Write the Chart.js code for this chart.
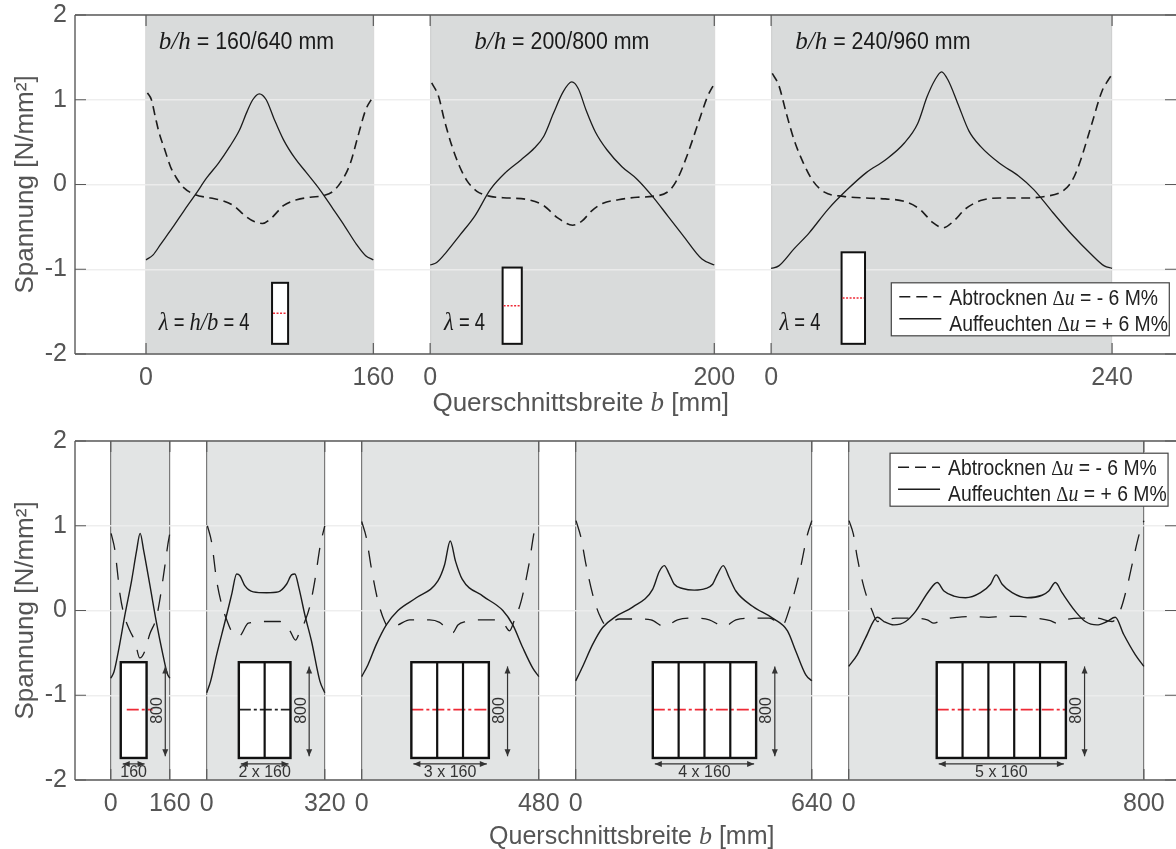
<!DOCTYPE html>
<html lang="de">
<head>
<meta charset="utf-8">
<title>Spannung über Querschnittsbreite</title>
<script src="https://cdn.jsdelivr.net/npm/chart.js@4/dist/chart.umd.min.js"></script>
<style>
  html, body { margin: 0; padding: 0; background: #fff; }
  #topWrap { position: absolute; left: 0; top: 0; }
  #bottomWrap { position: absolute; left: 0; top: 426px; }
</style>
</head>
<body>
<div id="topWrap"><canvas id="topChart" width="1176" height="420"></canvas></div>
<div id="bottomWrap"><canvas id="bottomChart" width="1176" height="423"></canvas></div>
<script>
// Werte
const yTicks = [2, 1, 0, -1, -2];
const yTitle = 'Spannung [N/mm²]';
const dryLabel = 'Abtrocknen';
const wetLabel = 'Auffeuchten';

const topOffsets = [0, 200, 440];
const topWidths = [160, 200, 240];
const topTickLabels = ['0', '160', '0', '200', '0', '240'];
const topDimensions = ['160/640', '200/800', '240/960'];

const bottomOffsets = [0, 260, 680, 1260, 2000];
const bottomWidths = [160, 320, 480, 640, 800];
const bottomTickLabels = ['0', '160', '0', '320', '0', '480', '0', '640', '0', '800'];
const bottomBays = [1, 2, 3, 4, 5];

const top1WetX = [0, 5, 10.5, 18.6, 26.7, 34.7, 42.8, 50.9, 59, 65.7, 71.1, 75.1, 79.7, 84.6, 90, 96.7, 104.8, 112.9, 122.3, 131.7, 139.8, 147.9, 154.6, 160];
const top1WetY = [-0.89, -0.83, -0.7, -0.51, -0.31, -0.12, 0.08, 0.25, 0.45, 0.64, 0.86, 1, 1.07, 1, 0.78, 0.53, 0.31, 0.14, -0.06, -0.29, -0.49, -0.7, -0.84, -0.89];
const top1DryX = [1, 3.8, 6.5, 9.2, 13.2, 17.2, 21.3, 26.7, 34.7, 45.5, 53.6, 61.7, 69.8, 76.5, 81.9, 88.6, 96.7, 106.1, 115.6, 125, 131.7, 138.4, 143.8, 149.2, 154.6, 160];
const top1DryY = [1.08, 1, 0.8, 0.61, 0.41, 0.21, 0.08, -0.04, -0.12, -0.16, -0.19, -0.25, -0.37, -0.44, -0.46, -0.39, -0.25, -0.18, -0.15, -0.13, -0.08, 0.06, 0.25, 0.57, 0.88, 1.04];

const top2WetX = [0, 4.6, 11.3, 20.8, 31.5, 42.3, 53, 63.9, 73.4, 80, 86.8, 93.5, 99.7, 104.3, 109.7, 116.3, 124.4, 135, 145.8, 156.5, 167.2, 177.9, 191.3, 200];
const top2WetY = [-0.95, -0.92, -0.8, -0.6, -0.37, -0.06, 0.14, 0.29, 0.43, 0.57, 0.84, 1.09, 1.21, 1.13, 0.88, 0.62, 0.41, 0.21, 0.06, -0.14, -0.37, -0.6, -0.88, -0.95];
const top2DryX = [1.1, 5.9, 10, 15.4, 20.8, 26.1, 32.9, 42.3, 55.8, 69.3, 80, 89.5, 100.3, 107, 113.7, 121.7, 132.4, 145.8, 156.5, 168.5, 173.9, 180.6, 188.6, 195.3, 200];
const top2DryY = [1.2, 1.04, 0.76, 0.45, 0.21, 0.04, -0.08, -0.14, -0.16, -0.18, -0.25, -0.39, -0.48, -0.43, -0.31, -0.22, -0.18, -0.15, -0.14, -0.07, 0.06, 0.33, 0.72, 1.04, 1.19];

const top3WetX = [0, 5.4, 16.1, 26.8, 40.2, 53.6, 67, 80.4, 93.8, 103.2, 109.9, 115.2, 120, 124.6, 131.3, 139.3, 147.4, 160.8, 174.2, 184.9, 198.3, 211.7, 225.1, 234.5, 240];
const top3WetY = [-0.99, -0.96, -0.76, -0.57, -0.29, -0.06, 0.14, 0.29, 0.49, 0.72, 1.04, 1.23, 1.33, 1.23, 0.96, 0.63, 0.45, 0.25, 0.1, -0.06, -0.33, -0.59, -0.82, -0.96, -0.99];
const top3DryX = [0.8, 5.4, 10.7, 16.1, 22.8, 29.5, 37.5, 50.9, 67, 80.4, 93.8, 104.5, 113.9, 121.1, 128.6, 136.6, 147.4, 160.8, 176.9, 193, 205, 211.7, 217.1, 225.1, 233.1, 237.2, 240];
const top3DryY = [1.31, 1.17, 0.84, 0.53, 0.25, 0.04, -0.09, -0.14, -0.16, -0.17, -0.2, -0.29, -0.45, -0.51, -0.43, -0.29, -0.19, -0.16, -0.16, -0.14, -0.08, 0.04, 0.25, 0.68, 1.11, 1.23, 1.3];

const bot1WetX = [0, 8.9, 20.6, 38.4, 56.3, 69.7, 79.5, 89.4, 105.5, 123.3, 141.2, 152.8, 160];
const bot1WetY = [-0.8, -0.72, -0.48, -0.05, 0.35, 0.7, 0.91, 0.7, 0.31, -0.13, -0.52, -0.74, -0.8];
const bot1DryX = [0.9, 11.6, 17.9, 25, 35.8, 51.9, 65.3, 78.7, 92.1, 105.5, 123.3, 132.3, 145.7, 154.7, 160];
const bot1DryY = [0.91, 0.7, 0.46, 0.19, -0.05, -0.24, -0.36, -0.56, -0.48, -0.28, -0.09, 0.11, 0.5, 0.78, 0.91];

const bot2WetX = [0, 10.8, 27, 49.6, 67.6, 81.1, 90.1, 103.7, 126.2, 162.3, 193.8, 216.3, 229.9, 238.9, 249.7, 265.9, 283.9, 306.5, 320];
const bot2WetY = [-0.97, -0.83, -0.52, -0.13, 0.19, 0.43, 0.41, 0.29, 0.22, 0.21, 0.22, 0.31, 0.42, 0.43, 0.27, -0.05, -0.36, -0.83, -0.97];
const bot2DryX = [1.8, 13.5, 27, 40.6, 54.1, 69.4, 88.3, 112.7, 162.3, 198.3, 225.4, 240.7, 249.7, 265.9, 279.4, 292.9, 308.3, 320];
const bot2DryY = [1, 0.8, 0.35, 0.07, -0.11, -0.26, -0.3, -0.15, -0.13, -0.13, -0.24, -0.35, -0.28, -0.13, 0.05, 0.35, 0.78, 1];

const bot3WetX = [0, 17.1, 39.7, 66.8, 98.4, 148, 206.6, 224.7, 240, 254.4, 272.4, 328.4, 382.5, 409.6, 436.7, 463.7, 480];
const bot3WetY = [-0.78, -0.64, -0.4, -0.17, 0, 0.15, 0.35, 0.54, 0.82, 0.58, 0.37, 0.17, 0, -0.17, -0.44, -0.68, -0.78];
const bot3DryX = [0, 12.6, 26.2, 44.2, 62.3, 74, 98.4, 129.9, 184.1, 211.1, 224.7, 247.2, 260.8, 283.3, 319.4, 364.5, 387.1, 400.6, 414.2, 432.2, 454.8, 468.3, 476.4];
const bot3DryY = [1.05, 0.86, 0.5, 0.11, -0.13, -0.2, -0.17, -0.11, -0.11, -0.14, -0.19, -0.26, -0.17, -0.13, -0.11, -0.11, -0.17, -0.24, -0.11, 0.11, 0.58, 0.94, 1];

const bot4WetX = [0, 19, 46, 73.1, 109.2, 154.3, 208.5, 226.6, 240.1, 253.6, 267.2, 289.7, 321.3, 352.9, 371, 384.5, 399.9, 416.1, 434.1, 479.3, 533.4, 574, 596.6, 623.7, 640];
const bot4WetY = [-0.83, -0.66, -0.4, -0.2, -0.07, 0.04, 0.25, 0.46, 0.53, 0.43, 0.31, 0.26, 0.24, 0.26, 0.31, 0.43, 0.53, 0.39, 0.23, 0.05, -0.09, -0.24, -0.48, -0.76, -0.83];
const bot4DryX = [0.9, 14.4, 28, 46, 64.1, 82.1, 118.3, 163.4, 204, 240.1, 276.2, 321.3, 362, 402.6, 434.1, 479.3, 524.5, 560.6, 578.6, 605.7, 628.3, 640];
const bot4DryY = [1.06, 0.86, 0.54, 0.19, -0.05, -0.17, -0.1, -0.1, -0.11, -0.19, -0.11, -0.09, -0.11, -0.19, -0.11, -0.09, -0.09, -0.17, 0.01, 0.43, 0.9, 1.06];

const bot5WetX = [0, 23.4, 46, 77.6, 95.6, 122.7, 154.2, 181.3, 217.3, 239.9, 258, 285, 316.6, 357.2, 384.2, 399.5, 415.8, 442.9, 483.4, 524, 542.1, 560.1, 578.2, 614.2, 641.3, 672.9, 699.9, 722.4, 745, 776.5, 800];
const bot5WetY = [-0.66, -0.52, -0.32, -0.08, -0.13, -0.17, -0.13, -0.01, 0.23, 0.33, 0.23, 0.17, 0.15, 0.21, 0.31, 0.42, 0.31, 0.21, 0.15, 0.18, 0.23, 0.33, 0.21, -0.01, -0.13, -0.17, -0.13, -0.08, -0.28, -0.52, -0.66];
const bot5DryX = [0.9, 12.6, 23.4, 41.5, 64, 77.6, 127.2, 167.8, 212.8, 230.9, 253.4, 294, 334.5, 379.6, 415.7, 465.3, 505.9, 546.5, 564.5, 587.1, 627.6, 672.7, 713.4, 735.9, 753.9, 772, 787.3, 800];
const bot5DryY = [1.06, 0.9, 0.62, 0.27, -0.01, -0.13, -0.09, -0.09, -0.11, -0.15, -0.11, -0.08, -0.07, -0.08, -0.07, -0.07, -0.09, -0.12, -0.15, -0.11, -0.09, -0.09, -0.13, 0, 0.27, 0.62, 0.9, 1.06];

const SANS = '"Liberation Sans", Arial, sans-serif';
const SERIF = '"Liberation Serif", "Times New Roman", serif';
const AXIS_COLOR = '#5a5a5a';

function curve(label, offset, xs, ys, dash, width) {
  return {
    label: label,
    data: xs.map((x, i) => ({ x: x + offset, y: ys[i] })),
    borderColor: '#1c1c1c',
    borderWidth: width,
    borderDash: dash,
    pointRadius: 0,
    cubicInterpolationMode: 'monotone',
    fill: false
  };
}

// Textstücke mit wechselnder Schrift, run = [Text, Schrift, Stauchung in x]
function drawRuns(ctx, x, y, runs, color) {
  ctx.fillStyle = color || '#1a1a1a';
  ctx.textAlign = 'left';
  ctx.textBaseline = 'alphabetic';
  runs.forEach(run => {
    const sx = run[2] || 1;
    ctx.font = run[1];
    ctx.save();
    ctx.translate(x, y);
    ctx.scale(sx, 1);
    ctx.fillText(run[0], 0, 0);
    ctx.restore();
    x += ctx.measureText(run[0]).width * sx;
  });
}

function runsWidth(ctx, runs) {
  return runs.reduce((sum, run) => {
    ctx.font = run[1];
    return sum + ctx.measureText(run[0]).width * (run[2] || 1);
  }, 0);
}

function line(ctx, x1, y1, x2, y2, color, width, dash) {
  ctx.save();
  ctx.strokeStyle = color;
  ctx.lineWidth = width;
  ctx.setLineDash(dash || []);
  ctx.beginPath();
  ctx.moveTo(x1, y1);
  ctx.lineTo(x2, y2);
  ctx.stroke();
  ctx.restore();
}

function arrowHead(ctx, x, y, dx, dy) {
  ctx.fillStyle = '#333';
  ctx.beginPath();
  ctx.moveTo(x, y);
  ctx.lineTo(x - dx * 7 - dy * 3, y - dy * 7 - dx * 3);
  ctx.lineTo(x - dx * 7 + dy * 3, y - dy * 7 + dx * 3);
  ctx.closePath();
  ctx.fill();
}

function arrow(ctx, x1, y1, x2, y2) {
  line(ctx, x1, y1, x2, y2, '#333', 1.2);
  const len = Math.hypot(x2 - x1, y2 - y1);
  const dx = (x2 - x1) / len;
  const dy = (y2 - y1) / len;
  arrowHead(ctx, x2, y2, dx, dy);
  arrowHead(ctx, x1, y1, -dx, -dy);
}

function drawLegend(ctx, left, top, width, height) {
  ctx.fillStyle = '#fff';
  ctx.fillRect(left, top, width, height);
  ctx.strokeStyle = '#444';
  ctx.lineWidth = 1.2;
  ctx.strokeRect(left, top, width, height);
  line(ctx, left + 8, top + 14, left + 50, top + 14, '#1c1c1c', 1.5, [11, 6]);
  line(ctx, left + 8, top + 36, left + 50, top + 36, '#1c1c1c', 1.5);
  const f = '22.5px ' + SANS;
  const m = 'italic 23px ' + SERIF;
  const d = '22px ' + SERIF;
  const sq = 0.86;
  drawRuns(ctx, left + 58, top + 22, [[dryLabel + ' ', f, sq], ['Δ', d, sq], ['u', m, sq], [' = - 6 M%', f, sq]], '#222');
  drawRuns(ctx, left + 58, top + 48, [[wetLabel + ' ', f, sq], ['Δ', d, sq], ['u', m, sq], [' = + 6 M%', f, sq]], '#222');
}

function drawXTitle(chart, center, y, size) {
  const ctx = chart.ctx;
  const f = size + 'px ' + SANS;
  const runs = [['Querschnittsbreite ', f], ['b', 'italic ' + (size + 1) + 'px ' + SERIF], [' [mm]', f]];
  const w = runsWidth(ctx, runs);
  drawRuns(ctx, chart.scales.x.getPixelForValue(center) - w / 2, y, runs, '#555');
}

// Graue Bereiche unter Gitter und Kurven, Rahmen und Striche darüber
const panelPlugin = {
  id: 'panels',
  beforeDraw(chart, args, opts) {
    const { ctx, chartArea: a, scales: { x } } = chart;
    ctx.save();
    ctx.fillStyle = opts.fill;
    opts.offsets.forEach((o, i) => {
      const l = x.getPixelForValue(o);
      const r = x.getPixelForValue(o + opts.widths[i]);
      ctx.fillRect(l, a.top, r - l, a.bottom - a.top);
    });
    ctx.restore();
  },
  afterDraw(chart) {
    const { ctx, chartArea: a, scales: { x, y } } = chart;
    line(ctx, a.left, a.top, a.right, a.top, AXIS_COLOR, 1.6);
    line(ctx, a.left, a.bottom, a.right, a.bottom, AXIS_COLOR, 1.6);
    line(ctx, a.left, a.top, a.left, a.bottom, AXIS_COLOR, 1.4);
    yTicks.forEach(v => {
      const py = y.getPixelForValue(v);
      line(ctx, a.left, py, a.left + 11, py, AXIS_COLOR, 1);
      line(ctx, a.right - 11, py, a.right, py, AXIS_COLOR, 1);
    });
    x.ticks.forEach(t => {
      const px = x.getPixelForValue(t.value);
      line(ctx, px, a.top, px, a.top + 11, AXIS_COLOR, 1.2);
      line(ctx, px, a.bottom - 11, px, a.bottom, AXIS_COLOR, 1.2);
    });
  }
};

const topLabelsPlugin = {
  id: 'topLabels',
  afterDatasetsDraw(chart) {
    const { ctx, scales: { x, y } } = chart;
    const sans = '23px ' + SANS;
    const mi = 'italic 25px ' + SERIF;
    const titleX = [9, 231, 457];
    const lambdaX = [9, 209.8, 445.9];
    topDimensions.forEach((dim, i) => {
      drawRuns(ctx, x.getPixelForValue(titleX[i]), y.getPixelForValue(1.6),
        [['b/h', mi], [' = ' + dim + ' mm', sans, 0.93]]);
      const runs = i === 0
        ? [['λ', mi, 0.9], [' = ', sans, 0.8], ['h/b', mi, 0.9], [' = 4', sans, 0.8]]
        : [['λ', mi, 0.9], [' = 4', sans, 0.8]];
      drawRuns(ctx, x.getPixelForValue(lambdaX[i]), y.getPixelForValue(-1.72), runs);
    });
    // Querschnitte
    const rects = [[88.7, 100, -1.16, -1.52], [251, 264.5, -0.98, -1.43], [489.6, 506.1, -0.8, -1.34]];
    rects.forEach(r => {
      const l = x.getPixelForValue(r[0]);
      const rr = x.getPixelForValue(r[1]);
      const t = y.getPixelForValue(r[2]);
      const b = y.getPixelForValue(-1.88);
      ctx.fillStyle = '#fff';
      ctx.fillRect(l, t, rr - l, b - t);
      ctx.strokeStyle = '#111';
      ctx.lineWidth = 2;
      ctx.strokeRect(l, t, rr - l, b - t);
      const m = y.getPixelForValue(r[3]);
      line(ctx, l + 1, m, rr - 1, m, '#ee2a36', 1.6, [2, 1.5]);
    });
    drawLegend(ctx, x.getPixelForValue(524.6), y.getPixelForValue(-1.16), 278, 53);
    drawXTitle(chart, 306, 411, 26);
  }
};

const bottomLabelsPlugin = {
  id: 'bottomLabels',
  afterDatasetsDraw(chart) {
    const { ctx, scales: { x, y } } = chart;
    const lefts = [27, 347, 814.6, 1469, 2238.5];
    const bayWidth = 70;
    bottomBays.forEach((n, i) => {
      const l = x.getPixelForValue(lefts[i]);
      const r = x.getPixelForValue(lefts[i] + n * bayWidth);
      const t = y.getPixelForValue(-0.61);
      const b = y.getPixelForValue(-1.74);
      const mid = y.getPixelForValue(-1.17);
      const bay = (r - l) / n;
      ctx.fillStyle = '#fff';
      ctx.fillRect(l, t, r - l, b - t);
      const lineColor = i === 1 ? '#222' : '#ee2a36';
      if (i === 0) {
        line(ctx, l + 6, mid, r + 6, mid, lineColor, 1.8, [12, 3, 3, 3]);
      } else {
        line(ctx, l, mid, r, mid, lineColor, 1.8, [12, 3, 3, 3]);
      }
      ctx.strokeStyle = '#111';
      ctx.lineWidth = 2.4;
      ctx.strokeRect(l, t, r - l, b - t);
      for (let k = 1; k < n; k++) {
        line(ctx, l + k * bay, t, l + k * bay, b, '#111', 2.2);
      }
      arrow(ctx, l + 2, y.getPixelForValue(-1.81), r - 2, y.getPixelForValue(-1.81));
      ctx.fillStyle = '#333';
      ctx.font = '16px ' + SANS;
      ctx.textAlign = 'center';
      ctx.textBaseline = 'alphabetic';
      ctx.fillText(n === 1 ? '160' : n + ' x 160', (l + r) / 2, y.getPixelForValue(-1.97));
      const ax = r + 18.7;
      arrow(ctx, ax, y.getPixelForValue(-0.66), ax, y.getPixelForValue(-1.72));
      ctx.save();
      ctx.translate(ax - 8, y.getPixelForValue(-1.18));
      ctx.rotate(-Math.PI / 2);
      ctx.fillStyle = '#333';
      ctx.font = '16px ' + SANS;
      ctx.textAlign = 'center';
      ctx.textBaseline = 'middle';
      ctx.fillText('800', 0, 0);
      ctx.restore();
    });
    drawLegend(ctx, x.getPixelForValue(2112), y.getPixelForValue(1.856), 278, 53);
    drawXTitle(chart, 1412, 418, 25);
  }
};

function buildOptions(xMin, xMax, xTicks, xLabels, xGridColor, panels, xHeight) {
  return {
    responsive: false,
    animation: false,
    layout: { padding: { left: 10, top: 15, right: 0, bottom: 0 } },
    plugins: {
      legend: { display: false },
      title: { display: false },
      tooltip: { enabled: false },
      panels: panels
    },
    scales: {
      x: {
        type: 'linear',
        min: xMin,
        max: xMax,
        afterBuildTicks(scale) {
          scale.ticks = xTicks.map(v => ({ value: v }));
        },
        afterFit(scale) {
          scale.height = xHeight;
          scale.paddingLeft = 0;
          scale.paddingRight = 0;
        },
        ticks: {
          autoSkip: false,
          maxRotation: 0,
          padding: 9,
          color: '#555',
          font: { family: SANS, size: 25 },
          callback: (value, index) => xLabels[index]
        },
        grid: { color: xGridColor, drawTicks: false, lineWidth: 1.2 },
        border: { display: false }
      },
      y: {
        min: -2,
        max: 2,
        afterBuildTicks(scale) {
          scale.ticks = yTicks.map(v => ({ value: v }));
        },
        afterFit(scale) {
          scale.width = 65;
          scale.paddingTop = 0;
          scale.paddingBottom = 0;
        },
        title: {
          display: true,
          text: yTitle,
          color: '#555',
          font: { family: SANS, size: 26 },
          padding: { top: 0, bottom: 0 }
        },
        ticks: {
          padding: 8,
          color: '#555',
          font: { family: SANS, size: 25 }
        },
        grid: { color: 'rgba(236,236,236,0.9)', drawTicks: false, lineWidth: 1.5 },
        border: { display: false }
      }
    }
  };
}

const topTicks = [];
topOffsets.forEach((o, i) => { topTicks.push(o, o + topWidths[i]); });
const bottomTicks = [];
bottomOffsets.forEach((o, i) => { bottomTicks.push(o, o + bottomWidths[i]); });

const topDash = [9, 5.5];
const bottomDash = [17, 13];

new Chart(document.getElementById('topChart'), {
  type: 'line',
  data: {
    datasets: [
      curve(dryLabel, topOffsets[0], top1DryX, top1DryY, topDash, 1.6),
      curve(wetLabel, topOffsets[0], top1WetX, top1WetY, [], 1.3),
      curve(dryLabel, topOffsets[1], top2DryX, top2DryY, topDash, 1.6),
      curve(wetLabel, topOffsets[1], top2WetX, top2WetY, [], 1.3),
      curve(dryLabel, topOffsets[2], top3DryX, top3DryY, topDash, 1.6),
      curve(wetLabel, topOffsets[2], top3WetX, top3WetY, [], 1.3)
    ]
  },
  options: buildOptions(-50, 725, topTicks, topTickLabels, 'rgba(200,200,200,0.6)',
    { offsets: topOffsets, widths: topWidths, fill: '#d9dbdb' }, 66),
  plugins: [panelPlugin, topLabelsPlugin]
});

new Chart(document.getElementById('bottomChart'), {
  type: 'line',
  data: {
    datasets: [
      curve(dryLabel, bottomOffsets[0], bot1DryX, bot1DryY, bottomDash, 1.3),
      curve(wetLabel, bottomOffsets[0], bot1WetX, bot1WetY, [], 1.4),
      curve(dryLabel, bottomOffsets[1], bot2DryX, bot2DryY, bottomDash, 1.3),
      curve(wetLabel, bottomOffsets[1], bot2WetX, bot2WetY, [], 1.4),
      curve(dryLabel, bottomOffsets[2], bot3DryX, bot3DryY, bottomDash, 1.3),
      curve(wetLabel, bottomOffsets[2], bot3WetX, bot3WetY, [], 1.4),
      curve(dryLabel, bottomOffsets[3], bot4DryX, bot4DryY, bottomDash, 1.3),
      curve(wetLabel, bottomOffsets[3], bot4WetX, bot4WetY, [], 1.4),
      curve(dryLabel, bottomOffsets[4], bot5DryX, bot5DryY, bottomDash, 1.3),
      curve(wetLabel, bottomOffsets[4], bot5WetX, bot5WetY, [], 1.4)
    ]
  },
  options: buildOptions(-97, 2887, bottomTicks, bottomTickLabels, '#7a7a7a',
    { offsets: bottomOffsets, widths: bottomWidths, fill: '#e2e4e4' }, 69),
  plugins: [panelPlugin, bottomLabelsPlugin]
});
</script>
</body>
</html>
